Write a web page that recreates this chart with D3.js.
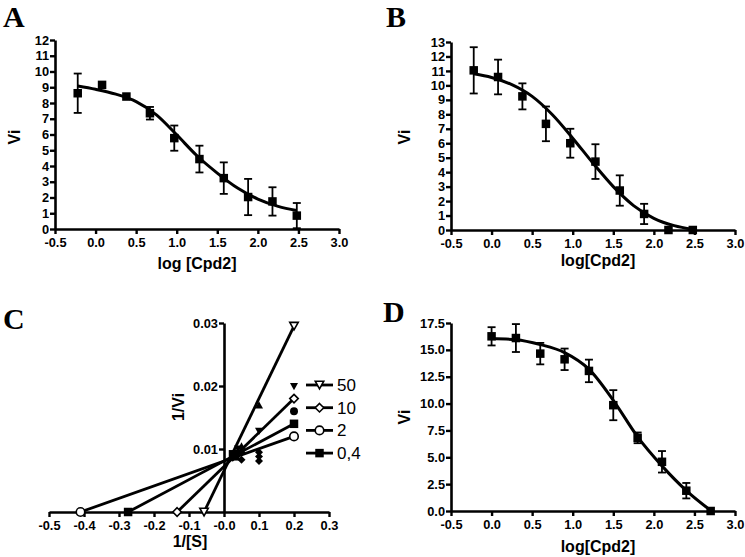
<!DOCTYPE html>
<html><head><meta charset="utf-8">
<script src="https://cdnjs.cloudflare.com/ajax/libs/d3/7.8.5/d3.min.js"></script>
<style>
body{margin:0;background:#fff;}
</style></head>
<body>
<svg id="c" width="745" height="557"></svg>
<script>
// ---------- DATA ----------
// Panel A
const aX = [-0.22, 0.08, 0.38, 0.67, 0.97, 1.28, 1.58, 1.88, 2.18, 2.48];
const aY = [8.62, 9.15, 8.41, 7.35, 5.77, 4.44, 3.23, 2.03, 1.75, 0.85];
const aErr = [1.25, 0.15, 0.12, 0.4, 0.8, 0.85, 1.0, 1.15, 0.9, 0.8];
const aCurveX = [-0.22, 0.0, 0.25, 0.5, 0.75, 1.0, 1.25, 1.5, 1.75, 2.0, 2.25, 2.48];
const aCurveY = [9.08, 8.87, 8.56, 8.09, 7.25, 5.98, 4.65, 3.55, 2.6, 1.9, 1.44, 1.18];
const aYTicks = [0,1,2,3,4,5,6,7,8,9,10,11,12];

// Panel B
const bX = [-0.22, 0.08, 0.38, 0.67, 0.97, 1.28, 1.58, 1.88, 2.18, 2.48];
const bY = [11.04, 10.58, 9.24, 7.34, 6.0, 4.73, 2.73, 1.11, 0.0, 0.0];
const bErr = [1.6, 1.2, 0.9, 1.2, 1.0, 1.2, 1.05, 0.7, 0, 0];
const bCurveX = [-0.22, 0.0, 0.25, 0.5, 0.75, 1.0, 1.25, 1.5, 1.75, 2.0, 2.25, 2.48];
const bCurveY = [10.8, 10.55, 10.05, 9.24, 7.97, 6.35, 4.62, 3.0, 1.69, 0.81, 0.3, 0.05];
const bYTicks = [0,1,2,3,4,5,6,7,8,9,10,11,12,13];

// Panel D
const dX = [0.0, 0.3, 0.6, 0.9, 1.2, 1.5, 1.8, 2.1, 2.4, 2.7];
const dY = [16.26, 16.1, 14.65, 14.12, 13.04, 9.85, 6.81, 4.58, 1.89, 0.0];
const dErr = [0.85, 1.3, 1.0, 1.0, 1.05, 1.4, 0.5, 1.0, 0.72, 0];
const dCurveX = [0.0, 0.3, 0.6, 0.9, 1.2, 1.5, 1.8, 2.1, 2.4, 2.7];
const dCurveY = [16.05, 15.95, 15.5, 14.75, 13.2, 10.3, 6.9, 4.2, 1.9, 0.05];
const dYTicks = [0, 2.5, 5, 7.5, 10, 12.5, 15, 17.5];
const dYLabels = ["0.0","2.5","5.0","7.5","10.0","12.5","15.0","17.5"];

// Shared x ticks for A, B, D
const logTicks = [-0.5, 0, 0.5, 1.0, 1.5, 2.0, 2.5, 3.0];
const logLabels = ["-0.5","0.0","0.5","1.0","1.5","2.0","2.5","3.0"];

// Panel C (Lineweaver-Burk)
const cSeries = ["50", "10", "2", "0,4"];
const cShapes = ["triDownOpen", "diamondOpen", "circleOpen", "squareFilled"];
const cXIntercept = [-0.057, -0.134, -0.41, -0.274];
const cEndX = [0.2, 0.2, 0.2, 0.2];
const cEndY = [0.0295, 0.018, 0.012, 0.014];
const cExtraX = [0.1, 0.2, 0.1, 0.2, 0.1, 0.1, 0.1, 0.05, 0.05, 0.033, 0.033, 0.025, 0.04, 0.05, 0.025];
const cExtraY = [0.017, 0.0199, 0.0128, 0.016, 0.0095, 0.0088, 0.0081, 0.0105, 0.0083, 0.0093, 0.0088, 0.0092, 0.01, 0.0095, 0.0086];
const cExtraShape = ["triUpFilled","triDownFilled","triDownFilled","circleFilled","diamondFilled","diamondFilled","diamondFilled","triUpFilled","diamondFilled","circleFilled","squareFilled","squareFilled","triDownFilled","diamondFilled","diamondFilled"];
const cXTicks = [-0.5,-0.4,-0.3,-0.2,-0.1,0,0.1,0.2,0.3];
const cXLabels = ["-0.5","-0.4","-0.3","-0.2","-0.1","-0.0","0.1","0.2","0.3"];
const cYTicks = [0.01, 0.02, 0.03];
const cYLabels = ["0.01","0.02","0.03"];

// ---------- DRAW ----------
const SANS = '"Liberation Sans", Arial, sans-serif';
const SERIF = '"Liberation Serif", "Times New Roman", serif';
const svg = d3.select("#c");
svg.append("rect").attr("width",745).attr("height",557).attr("fill","#fff");

function styleAxis(sel){
  sel.select(".domain").attr("stroke","#000").attr("stroke-width",2.6);
  sel.selectAll(".tick line").attr("stroke","#000").attr("stroke-width",2.4);
  sel.selectAll(".tick text").attr("fill","#000")
     .style("font-family",SANS).style("font-weight","bold").style("font-size","12.8px");
}

function marker(g, shape, cx, cy, s){
  const filled = shape.indexOf("Filled")>=0;
  const fill = filled ? "#000" : "#fff";
  const sw = filled ? 0 : 1.6;
  let el;
  if(shape.startsWith("square")){
    el = g.append("rect").attr("x",cx-s/2).attr("y",cy-s/2).attr("width",s).attr("height",s);
  } else if(shape.startsWith("circle")){
    el = g.append("circle").attr("cx",cx).attr("cy",cy).attr("r",s/2);
  } else if(shape.startsWith("triDown")){
    const h=s*0.9;
    el = g.append("path").attr("d",`M${cx-s/2},${cy-h/2}L${cx+s/2},${cy-h/2}L${cx},${cy+h/2}Z`);
  } else if(shape.startsWith("triUp")){
    const h=s*0.9;
    el = g.append("path").attr("d",`M${cx-s/2},${cy+h/2}L${cx+s/2},${cy+h/2}L${cx},${cy-h/2}Z`);
  } else {
    el = g.append("path").attr("d",`M${cx},${cy-s/2}L${cx+s/2},${cy}L${cx},${cy+s/2}L${cx-s/2},${cy}Z`);
  }
  el.attr("fill",fill).attr("stroke","#000").attr("stroke-width",sw);
}

function axisLabel(g, x, y, txt, rotate){
  const t = g.append("text").attr("text-anchor","middle")
    .style("font-family",SANS).style("font-weight","bold").style("font-size","16px").attr("fill","#000").text(txt);
  if(rotate) t.attr("transform",`translate(${x},${y}) rotate(-90)`);
  else t.attr("x",x).attr("y",y);
}
function letter(g, x, y, txt){
  g.append("text").attr("x",x).attr("y",y)
    .style("font-family",SERIF).style("font-weight","bold").style("font-size","30px").attr("fill","#000").text(txt);
}

function sigmoidPanel(o){
  const g = svg.append("g");
  const x = d3.scaleLinear().domain([-0.5,3.0]).range([o.x0,o.x1]);
  const y = d3.scaleLinear().domain([0,o.yMax]).range([o.y0,o.y1]);
  const xa = g.append("g").attr("transform",`translate(0,${o.y0})`)
    .call(d3.axisBottom(x).tickValues(logTicks).tickFormat((d,i)=>logLabels[i]).tickSize(5).tickSizeOuter(0).tickPadding(4));
  styleAxis(xa);
  const ya = g.append("g").attr("transform",`translate(${o.x0},0)`)
    .call(d3.axisLeft(y).tickValues(o.yTicks).tickFormat((d,i)=>o.yLabels[i]).tickSize(5).tickSizeOuter(0).tickPadding(1));
  styleAxis(ya);
  const line = d3.line().x(d=>x(d[0])).y(d=>y(d[1])).curve(d3.curveMonotoneX);
  g.append("path").datum(d3.zip(o.cx,o.cy)).attr("d",line)
    .attr("fill","none").attr("stroke","#000").attr("stroke-width",3);
  const pts = d3.zip(o.px,o.py,o.pe);
  pts.forEach(([px,py,pe])=>{
    if(pe>0.2){
      const X=x(px);
      g.append("line").attr("x1",X).attr("x2",X).attr("y1",y(py-pe)).attr("y2",y(py+pe)).attr("stroke","#000").attr("stroke-width",1.8);
      [py-pe,py+pe].forEach(v=>{
        g.append("line").attr("x1",X-4).attr("x2",X+4).attr("y1",y(v)).attr("y2",y(v)).attr("stroke","#000").attr("stroke-width",1.8);
      });
    }
  });
  pts.forEach(([px,py])=>marker(g,"squareFilled",x(px),y(py),8.5));
  axisLabel(g, o.xlx, o.xly, o.xlabel, false);
  axisLabel(g, o.ylx, o.yly, "Vi", true);
  letter(g, o.lx, o.ly, o.letter);
}

sigmoidPanel({x0:55,x1:339,y0:229,y1:40,yMax:12,yTicks:aYTicks,yLabels:aYTicks.map(String),
  px:aX,py:aY,pe:aErr,cx:aCurveX,cy:aCurveY,xlabel:"log [Cpd2]",xlx:197,xly:269,ylx:20,yly:137,
  letter:"A",lx:3,ly:27});
sigmoidPanel({x0:451,x1:735,y0:230,y1:42,yMax:13,yTicks:bYTicks,yLabels:bYTicks.map(String),
  px:bX,py:bY,pe:bErr,cx:bCurveX,cy:bCurveY,xlabel:"log[Cpd2]",xlx:598,xly:266,ylx:410,yly:137,
  letter:"B",lx:386,ly:27});
sigmoidPanel({x0:451,x1:735,y0:511,y1:323,yMax:17.5,yTicks:dYTicks,yLabels:dYLabels,
  px:dX,py:dY,pe:dErr,cx:dCurveX,cy:dCurveY,xlabel:"log[Cpd2]",xlx:598,xly:552,ylx:410,yly:417,
  letter:"D",lx:383,ly:322});

// Panel C
(function(){
  const g = svg.append("g");
  const x = d3.scaleLinear().domain([-0.5,0.3]).range([49,329]);
  const y = d3.scaleLinear().domain([0,0.03]).range([512,323]);
  const xa = g.append("g").attr("transform",`translate(0,${y(0)})`)
    .call(d3.axisBottom(x).tickValues(cXTicks).tickFormat((d,i)=>cXLabels[i]).tickSize(5).tickSizeOuter(0).tickPadding(4));
  styleAxis(xa);
  const ya = g.append("g").attr("transform",`translate(${x(0)},0)`)
    .call(d3.axisLeft(y).tickValues(cYTicks).tickFormat((d,i)=>cYLabels[i]).tickSize(5).tickSizeOuter(0).tickPadding(1));
  styleAxis(ya);
  cSeries.forEach((s,i)=>{
    g.append("line").attr("x1",x(cXIntercept[i])).attr("y1",y(0)).attr("x2",x(cEndX[i])).attr("y2",y(cEndY[i]))
      .attr("stroke","#000").attr("stroke-width",2.8);
  });
  cExtraX.forEach((vx,i)=>marker(g,cExtraShape[i],x(vx),y(cExtraY[i]),8));
  cSeries.forEach((s,i)=>{
    marker(g,cShapes[i],x(cXIntercept[i]),y(0),8.5);
    marker(g,cShapes[i],x(cEndX[i]),y(cEndY[i]),8.5);
  });
  cSeries.forEach((s,i)=>{
    const ly = 385 + i*22.7;
    g.append("line").attr("x1",306).attr("x2",333).attr("y1",ly).attr("y2",ly).attr("stroke","#000").attr("stroke-width",2.8);
    marker(g,cShapes[i],319.5,ly,8.5);
    g.append("text").attr("x",337).attr("y",ly+6).style("font-family",SANS).style("font-size","17px").attr("fill","#000").text(s);
  });
  axisLabel(g, 190, 547, "1/[S]", false);
  axisLabel(g, 184, 407, "1/Vi", true);
  letter(g, 3, 329, "C");
})();
</script>
</body></html>
